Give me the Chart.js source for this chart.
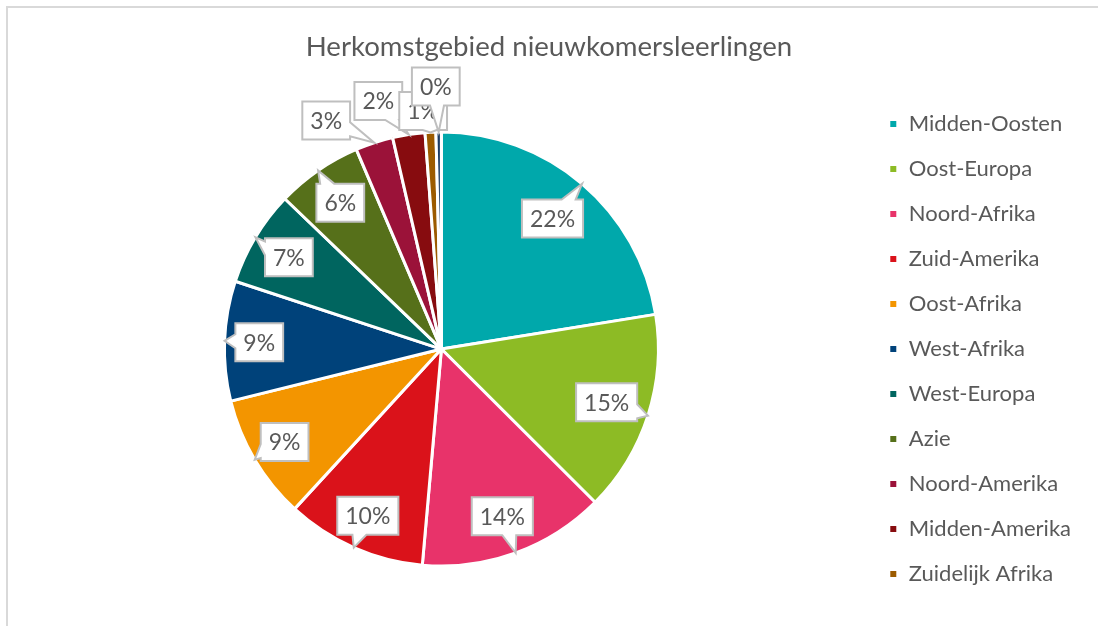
<!DOCTYPE html>
<html>
<head>
<meta charset="utf-8">
<script src="https://cdn.jsdelivr.net/npm/chart.js@4.4.1/dist/chart.umd.min.js"></script>
<style>
  html, body { margin: 0; padding: 0; background: #fff; }
  #wrap { position: relative; width: 1098px; height: 626px; }
  #frame { position: absolute; left: 6px; top: 6px; right: 0; bottom: 0;
           border-top: 2px solid #d9d9d9; border-left: 2px solid #d9d9d9; pointer-events: none; }
</style>
</head>
<body>
<div id="wrap">
  <canvas id="chart" width="1098" height="626"></canvas>
  <div id="frame"></div>
</div>
<script>
const regions = ['Midden-Oosten', 'Oost-Europa', 'Noord-Afrika', 'Zuid-Amerika', 'Oost-Afrika',
  'West-Afrika', 'West-Europa', 'Azie', 'Noord-Amerika', 'Midden-Amerika', 'Zuidelijk Afrika', 'Overig'];
const shares = [22.4, 15.0, 13.9, 10.4, 9.3, 8.9, 7.1, 6.4, 2.8, 2.4, 0.8, 0.4];
const colors = ['#00a8ab', '#8dbb25', '#e8336a', '#da121a', '#f39500', '#00427a',
  '#00655f', '#56701a', '#9b1239', '#870c0f', '#9c5b00', '#1b3b63'];
// last slice is not listed in the original legend
const inLegend = [true, true, true, true, true, true, true, true, true, true, true, false];

// where each callout sits: distance from centre (x radius) and turn from the slice middle (degrees)
const labelDist = [0.79, 0.80, 0.82, 0.84, 0.84, 0.84, 0.82, 0.82, 1.18, 1.18, 1.10, 1.21];
const labelTurn = [0, 0, 0, 0, 0, 0, 0, 0, -8.7, -5.6, -1.5, -0.5];

const textColor = '#595959';
const fontFamily = 'Lato';
Chart.defaults.font.family = fontFamily;

function clamp(v, lo, hi) { return Math.max(lo, Math.min(hi, v)); }

function drawCallout(ctx, cx, cy, w, h, tx, ty) {
  const l = cx - w / 2, r = cx + w / 2, t = cy - h / 2, b = cy + h / 2;
  const dx = tx - cx, dy = ty - cy;
  let side;
  if (Math.abs(dx) / (w / 2) > Math.abs(dy) / (h / 2)) side = dx > 0 ? 'right' : 'left';
  else side = dy > 0 ? 'bottom' : 'top';
  const half = 7, m = 3;
  ctx.beginPath();
  ctx.moveTo(l, t);
  if (side === 'top') {
    const px = clamp(cx + dx * (h / 2) / Math.abs(dy), l + m + half, r - m - half);
    ctx.lineTo(px - half, t); ctx.lineTo(tx, ty); ctx.lineTo(px + half, t);
  }
  ctx.lineTo(r, t);
  if (side === 'right') {
    const py = clamp(cy + dy * (w / 2) / Math.abs(dx), t + m + half, b - m - half);
    ctx.lineTo(r, py - half); ctx.lineTo(tx, ty); ctx.lineTo(r, py + half);
  }
  ctx.lineTo(r, b);
  if (side === 'bottom') {
    const px = clamp(cx + dx * (h / 2) / Math.abs(dy), l + m + half, r - m - half);
    ctx.lineTo(px + half, b); ctx.lineTo(tx, ty); ctx.lineTo(px - half, b);
  }
  ctx.lineTo(l, b);
  if (side === 'left') {
    const py = clamp(cy + dy * (w / 2) / Math.abs(dx), t + m + half, b - m - half);
    ctx.lineTo(l, py + half); ctx.lineTo(tx, ty); ctx.lineTo(l, py - half);
  }
  ctx.closePath();
  ctx.fillStyle = '#ffffff';
  ctx.fill();
  ctx.lineWidth = 2;
  ctx.strokeStyle = '#bfbfbf';
  ctx.stroke();
}

const calloutPlugin = {
  id: 'callouts',
  afterDatasetsDraw(chart) {
    const ctx = chart.ctx;
    const meta = chart.getDatasetMeta(0);
    const data = chart.data.datasets[0].data;
    const total = data.reduce((a, b) => a + b, 0);
    ctx.save();
    ctx.font = '23px ' + fontFamily;
    meta.data.forEach((arc, i) => {
      const p = arc.getProps(['x', 'y', 'startAngle', 'endAngle', 'outerRadius'], true);
      const mid = (p.startAngle + p.endAngle) / 2;
      const tipX = p.x + Math.cos(mid) * p.outerRadius;
      const tipY = p.y + Math.sin(mid) * p.outerRadius;
      const a = mid + labelTurn[i] * Math.PI / 180;
      const r = labelDist[i] * p.outerRadius;
      const cx = p.x + Math.cos(a) * r;
      const cy = p.y + Math.sin(a) * r;
      const text = Math.round(data[i] / total * 100) + '%';
      const w = ctx.measureText(text).width + 16;
      drawCallout(ctx, cx, cy, w, 38, tipX, tipY);
      ctx.fillStyle = textColor;
      ctx.textAlign = 'center';
      ctx.textBaseline = 'middle';
      ctx.fillText(text, cx, cy + 1);
    });
    ctx.restore();
  }
};

new Chart(document.getElementById('chart'), {
  type: 'pie',
  data: {
    labels: regions,
    datasets: [{
      data: shares,
      backgroundColor: colors,
      borderColor: '#ffffff',
      borderWidth: 3
    }]
  },
  options: {
    responsive: false,
    animation: false,
    radius: 217,
    layout: { padding: { left: 17, right: 17, top: 0, bottom: 2 } },
    plugins: {
      title: {
        display: true,
        text: 'Herkomstgebied nieuwkomersleerlingen',
        color: textColor,
        font: { size: 27.6, weight: 'normal' },
        padding: { top: 30.5, bottom: 10.5 }
      },
      legend: {
        position: 'right',
        fullSize: false,
        labels: {
          boxWidth: 9,
          boxHeight: 9,
          padding: 23,
          color: textColor,
          font: { size: 22 },
          filter: (item) => inLegend[item.index]
        }
      },
      tooltip: { enabled: false }
    }
  },
  plugins: [calloutPlugin]
});
</script>
</body>
</html>
